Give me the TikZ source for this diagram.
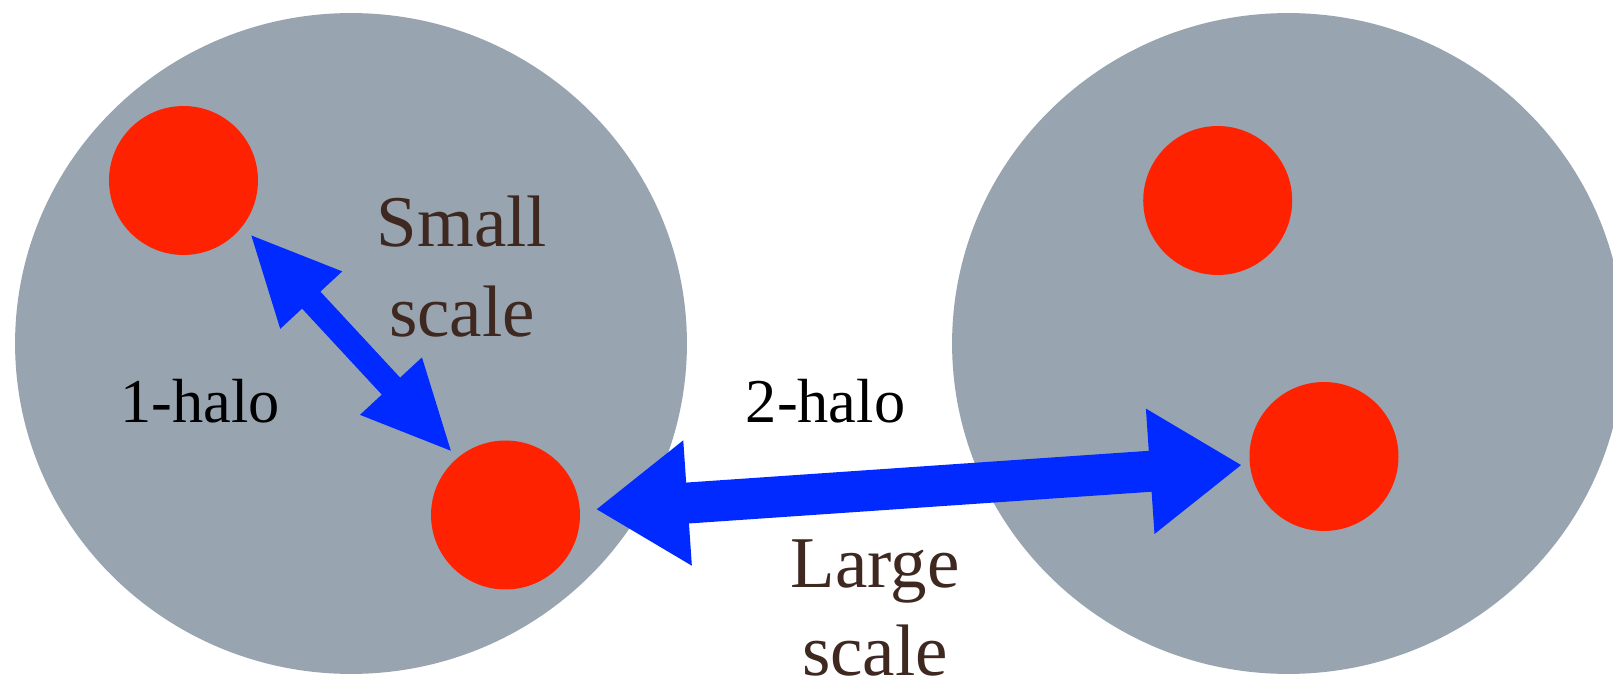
\documentclass[tikz,border=0pt]{standalone}
\usepackage{fontspec}
\setmainfont{Liberation Serif}
\usetikzlibrary{arrows.meta,calc,shapes.geometric}
\definecolor{halogray}{RGB}{152,165,177}
\definecolor{galred}{RGB}{255,34,0}
\definecolor{linkblue}{RGB}{0,42,255}
\definecolor{scalebrown}{RGB}{62,40,32}
\begin{document}
\begin{tikzpicture}[x=0.02cm,y=-0.02cm,
  halo/.style={ellipse, fill=halogray, draw=none, inner sep=0pt, outer sep=0pt,
    minimum width=13.44cm, minimum height=13.22cm},
  galaxy/.style={circle, fill=galred, draw=none, inner sep=0pt, outer sep=0pt,
    minimum size=2.98cm},
  bigarrow/.style={draw=linkblue, line width=0.82cm,
    {Triangle[length=1.84cm,width=2.38cm]}-{Triangle[length=1.84cm,width=2.38cm]}},
  smallarrow/.style={draw=linkblue, line width=0.5cm,
    {Triangle[length=1.82cm,width=1.54cm]}-{Triangle[length=1.82cm,width=1.54cm]}},
  scalelabel/.style={text=scalebrown, align=center, anchor=base, inner sep=0pt},
  halolabel/.style={text=black, font=\fontsize{35.5}{42}\selectfont, anchor=base, inner sep=0pt}]
  % page frame
  \fill[white] (0,0) rectangle (1613,682);
  \useasboundingbox (0,0) rectangle (1613,682);
  \clip (0,0) rectangle (1613,682);

  % the two dark matter haloes
  \node[halo] (haloL) at (351,343.5) {};
  \node[halo] (haloR) at (1288,343.5) {};

  % galaxies
  \node[galaxy] (gA) at (183.5,180.5) {};
  \node[galaxy] (gB) at (505.5,515) {};
  \node[galaxy] (gC) at (1217.7,200.5) {};
  \node[galaxy] (gD) at (1324,456.5) {};

  % pair separations
  \draw[smallarrow] ($(gA.center)+(-38.75:1.69cm)$) -- ($(gB.center)+(130.3:1.63cm)$);
  \draw[bigarrow] ($(gB.center)+(3.6:1.81cm)$) -- ($(gD.center)+(185.9:1.65cm)$);

  % labels (a two-line node sits on the baseline of its last line)
  \node[scalelabel, font=\fontsize{41.5}{51.6}\selectfont] (smallscale) at (462,337) {Small\\scale};
  \node[halolabel] (onehalo) at (200,422) {1-halo};
  \node[halolabel] (twohalo) at (825.5,422.5) {2-halo};
  \node[scalelabel, font=\fontsize{41.5}{49.9}\selectfont] (largescale) at (875,675) {Large\\scale};
\end{tikzpicture}
\end{document}
